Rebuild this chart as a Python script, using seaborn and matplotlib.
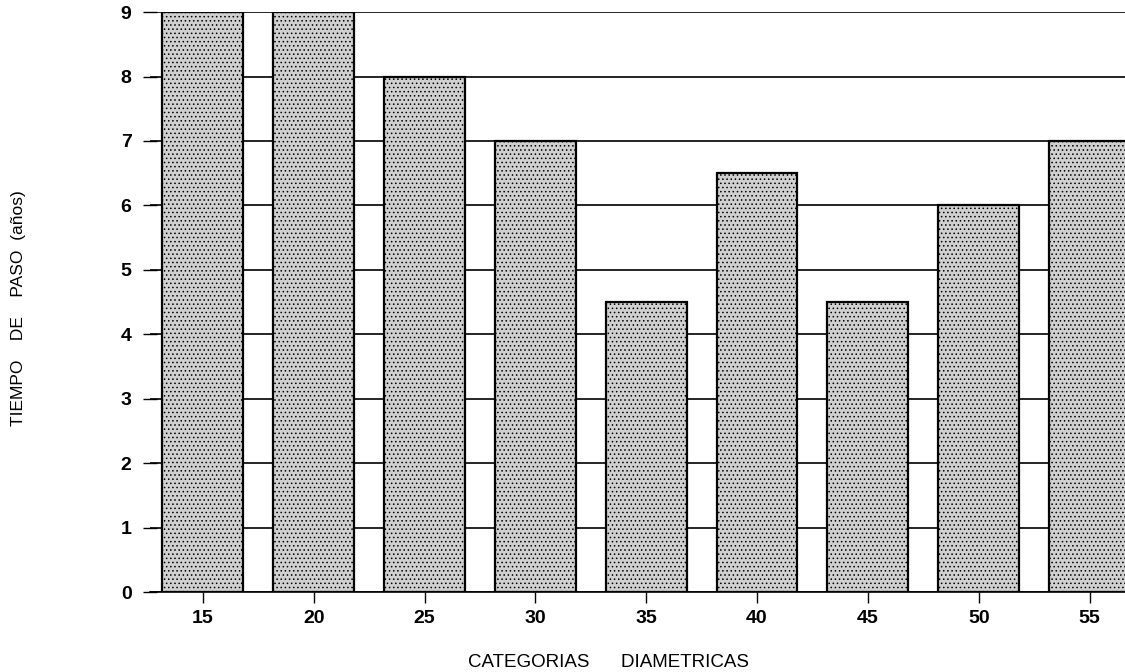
import matplotlib
matplotlib.use("Agg")
import matplotlib.pyplot as plt
import seaborn as sns
import pandas as pd

categorias = ["15", "20", "25", "30", "35", "40", "45", "50", "55"]
tiempo_paso = [9, 9, 8, 7, 4.5, 6.5, 4.5, 6, 7]
y_ticks = [0, 1, 2, 3, 4, 5, 6, 7, 8, 9]

sns.set_theme(style="white")
plt.rcParams['font.family'] = ['Liberation Sans', 'DejaVu Sans']
plt.rcParams['hatch.color'] = '#7a7a7a'
plt.rcParams['hatch.linewidth'] = 0.6

df = pd.DataFrame({"cat": categorias, "val": tiempo_paso})

fig = plt.figure(figsize=(11.25, 6.72), dpi=100)
ax = fig.add_axes([0.133, 0.119, 0.867, 0.863])

sns.barplot(data=df, x="cat", y="val", order=categorias, color="#d0d0d0",
            width=0.73, edgecolor="black", linewidth=1.6, saturation=1, ax=ax,
            errorbar=None, zorder=3)
for p in ax.patches:
    p.set_hatch("....")

ax.set_ylim(0, 9)
ax.set_xlim(-0.48, 8.32)
ax.set_yticks(y_ticks)
ax.yaxis.grid(True, color="black", linewidth=1.2)
ax.set_axisbelow(True)

for s in ["top", "right", "left"]:
    ax.spines[s].set_visible(False)
ax.spines["bottom"].set_color("black")
ax.spines["bottom"].set_linewidth(1.2)

ax.tick_params(axis="y", direction="inout", length=10, width=1, left=True,
               labelsize=14, pad=8, colors="black")
ax.tick_params(axis="x", direction="out", length=8, width=1, bottom=True,
               labelsize=14, pad=5, colors="black")
for lab in ax.get_xticklabels() + ax.get_yticklabels():
    lab.set_fontweight("bold")

ax.set_xlabel("CATEGORIAS      DIAMETRICAS", fontsize=13.5, color="black")
ax.xaxis.set_label_coords(0.47, -0.106)
ax.set_ylabel("TIEMPO    DE    PASO  (años)", fontsize=12.5, color="black")
ax.yaxis.set_label_coords(-0.127, 0.49)

fig.savefig("out.png", dpi=100)
